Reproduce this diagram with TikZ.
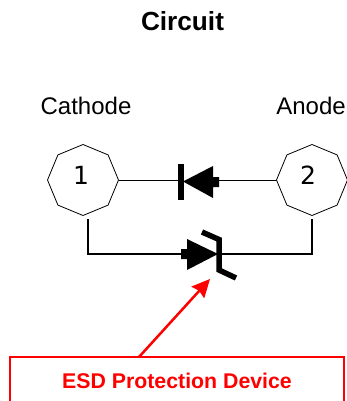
\documentclass[tikz,border=0pt]{standalone}
\usepackage{fontspec}
\setmainfont{Liberation Sans}
\newfontfamily\digitfont{DejaVu Sans}
\usetikzlibrary{shapes.geometric,arrows.meta}
\tikzset{
  pin/.style={draw,regular polygon,regular polygon sides=8,shape border rotate=22.5,
    minimum size=71pt,inner sep=0pt,outer sep=0pt,line width=0.8pt,font=\digitfont\fontsize{25}{25}\selectfont},
  pinname/.style={font=\fontsize{24}{24}\selectfont},
  wire/.style={line width=1.6pt},
  thinwire/.style={line width=1pt},
  symbar/.style={line width=5.5pt},
  esdbox/.style={draw=red,line width=2.2pt,text=red,minimum width=334pt,minimum height=48pt,
    font=\bfseries\fontsize{21.3}{21.3}\selectfont}
}
\begin{document}
\begin{tikzpicture}[x=1pt,y=-1pt]
  \useasboundingbox (0,0) rectangle (347,401);
  \node [font=\bfseries\fontsize{26.2}{26.2}\selectfont] (title) at (182.5,21) {Circuit};
  \node [pinname] (cathode) at (86,106) {Cathode};
  \node [pinname] (anode) at (311,106) {Anode};
  \node [pin] (one) at (83,180) {};
  \node [pin] (two) at (312,180) {};
  \node [font=\digitfont\fontsize{25}{25}\selectfont] (onetext) at (81,175) {1};
  \node [font=\digitfont\fontsize{25}{25}\selectfont] (twotext) at (308,175) {2};
  % upper diode
  \coordinate (dioded) at (181,180);
  \coordinate (diodea) at (219,180);
  \draw [thinwire] (one) -- (dioded);
  \draw [thinwire] (diodea) -- (two);
  \draw [symbar] (181,164) -- (181,200);
  \fill (183,181.5) -- (213,166) -- (213,177) -- (219,177) -- (219,187) -- (213,187) -- (213,198) -- cycle;
  % lower device
  \coordinate (onedrop) at (88,219);
  \coordinate (twodrop) at (312,219);
  \coordinate (bendleft) at (88,254);
  \coordinate (bendright) at (312,254);
  \draw [wire] (onedrop) -- (bendleft) -- (bendright) -- (twodrop);
  \fill (181,249) -- (187,249) -- (187,239) -- (218,254) -- (187,270) -- (187,259) -- (181,259) -- cycle;
  \draw [symbar,line cap=butt] (202,232) -- (219,239.5) -- (219,270) -- (236,278);
  % callout
  \node [esdbox] (esd) at (177,381) {ESD Protection Device};
  \coordinate (esdtip) at (210,279);
  \draw [red,line width=2.5pt,-{Stealth[length=18pt,width=17pt,inset=2pt]}] (139,357) -- (esdtip);
\end{tikzpicture}
\end{document}
